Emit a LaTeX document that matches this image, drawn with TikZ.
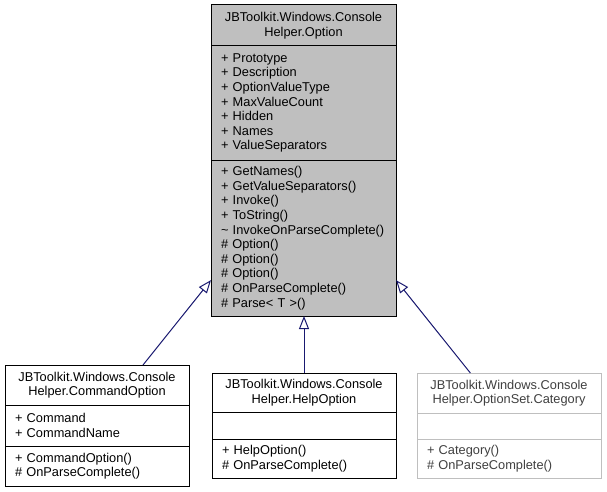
\documentclass[tikz,border=0pt]{standalone}
\usepackage{fontspec}
\setmainfont{Liberation Sans}
\usetikzlibrary{arrows.meta,calc}
\definecolor{edgeblue}{HTML}{191970}
\definecolor{boxgray}{HTML}{BFBFBF}
\def\px{0.75pt}
\hyphenpenalty=10000

\begin{document}
\begin{tikzpicture}[x=\px, y=-\px,
    every node/.style={
      font=\fontsize{9.6}{10.95}\selectfont, outer sep=0pt, inner ysep=0pt
    },
    classbox/.style={
      draw, line width=\px, anchor=north west, inner xsep=7.5pt
    },
    titlebox/.style={classbox, align=center},
    memberbox/.style={classbox, align=left},
    inherit/.style={
      draw=edgeblue, line width=\px, -{Triangle[open, length=13*\px, width=10*\px]}
    }
  ]
    \path[use as bounding box, fill=white] (0,0) rectangle (607,492);

    % base class
    \node[titlebox, fill=boxgray, text width=123.75pt, minimum height=41*\px]
      (optTitle) at (211,5) {JBToolkit.Windows.Console\\Helper.Option};
    \node[memberbox, fill=boxgray, text width=123.75pt, minimum height=114*\px]
      (optAttrs) at (211,46) {+ Prototype\\+ Description\\+ OptionValueType\\
      + MaxValueCount\\+ Hidden\\+ Names\\+ ValueSeparators};
    \node[memberbox, fill=boxgray, text width=123.75pt, minimum height=156*\px]
      (optMethods) at (211,160) {+ GetNames()\\+ GetValueSeparators()\\+ Invoke()\\
      + ToString()\\\textasciitilde{} InvokeOnParseComplete()\\\# Option()\\
      \# Option()\\\# Option()\\\# OnParseComplete()\\\# Parse< T >()};

    % derived classes
    \node[titlebox, text width=123pt, minimum height=40*\px]
      (cmdTitle) at (5,365) {JBToolkit.Windows.Console\\Helper.CommandOption};
    \node[memberbox, text width=123pt, minimum height=41*\px]
      (cmdAttrs) at (5,405) {+ Command\\+ CommandName};
    \node[memberbox, text width=123pt, minimum height=40*\px]
      (cmdMethods) at (5,446) {+ CommandOption()\\\# OnParseComplete()};

    \node[titlebox, text width=123pt, minimum height=39*\px]
      (helpTitle) at (212,373) {JBToolkit.Windows.Console\\Helper.HelpOption};
    \node[memberbox, text width=123pt, minimum height=27*\px]
      (helpAttrs) at (212,412) {};
    \node[memberbox, text width=123pt, minimum height=39*\px]
      (helpMethods) at (212,439) {+ HelpOption()\\\# OnParseComplete()};

    \node[titlebox, draw=boxgray, text=black!75, text width=123pt, minimum height=40*\px]
      (catTitle) at (417,373) {JBToolkit.Windows.Console\\Helper.OptionSet.Category};
    \node[memberbox, draw=boxgray, text width=123pt, minimum height=26*\px]
      (catAttrs) at (417,413) {};
    \node[memberbox, draw=boxgray, text=black!75, text width=123pt, minimum height=39*\px]
      (catMethods) at (417,439) {+ Category()\\\# OnParseComplete()};

    % inheritance
    \draw[inherit] ($(cmdTitle.north west)!0.75!(cmdTitle.north east)$)
      -- ($(optMethods.south west)!0.23!(optMethods.north west)$);
    \draw[inherit] (helpTitle.north) -- (helpTitle.north |- optMethods.south);
    \draw[inherit] ($(catTitle.north west)!0.29!(catTitle.north east)$)
      -- ($(optMethods.south east)!0.23!(optMethods.north east)$);
  \end{tikzpicture}
\end{document}
